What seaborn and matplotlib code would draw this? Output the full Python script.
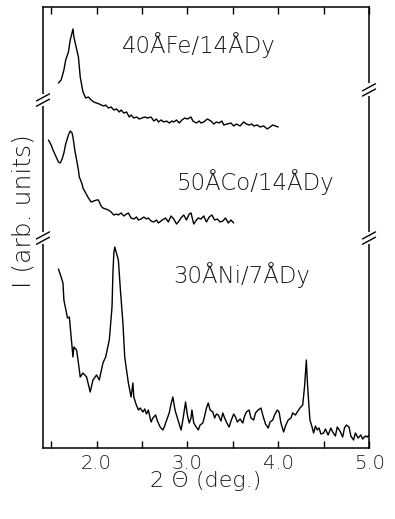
import matplotlib
matplotlib.use("Agg")
import matplotlib.pyplot as plt
import seaborn as sns
import pandas as pd

# ---- data (y in arbitrary units, curves stacked) ----
fe_x = [1.58, 1.61, 1.64, 1.66, 1.69, 1.71, 1.74, 1.75, 1.80, 1.82, 1.85, 1.88, 1.91, 1.94,
        1.97, 2.00, 2.03, 2.05, 2.08, 2.10, 2.13, 2.16, 2.19, 2.22, 2.25, 2.27, 2.30, 2.33,
        2.36, 2.38, 2.41, 2.44, 2.47, 2.50, 2.53, 2.56, 2.60, 2.63, 2.66, 2.68, 2.71, 2.74,
        2.77, 2.80, 2.83, 2.85, 2.88, 2.91, 2.94, 2.97, 3.00, 3.04, 3.06, 3.10, 3.13, 3.15,
        3.18, 3.22, 3.26, 3.29, 3.32, 3.35, 3.38, 3.40, 3.44, 3.48, 3.51, 3.54, 3.58, 3.62,
        3.65, 3.68, 3.71, 3.73, 3.77, 3.80, 3.84, 3.88, 3.91, 3.94, 3.97, 4.00]
fe_y = [365, 368, 378, 388, 396, 408, 419, 411, 391, 371, 356, 350, 351, 348,
        346, 345, 344, 343, 342, 343, 340, 341, 338, 339, 336, 338, 335, 336,
        331, 333, 330, 331, 329, 330, 331, 330, 331, 327, 329, 326, 328, 326,
        327, 325, 327, 326, 328, 325, 328, 330, 329, 331, 327, 325, 327, 325,
        326, 329, 327, 324, 326, 325, 327, 323, 324, 325, 322, 324, 322, 326,
        324, 323, 324, 322, 323, 321, 322, 319, 321, 323, 322, 321]

co_x = [1.47, 1.50, 1.52, 1.55, 1.58, 1.60, 1.62, 1.64, 1.66, 1.69, 1.71, 1.73, 1.74, 1.76,
        1.78, 1.80, 1.81, 1.84, 1.85, 1.88, 1.91, 1.94, 1.97, 2.00, 2.02, 2.05, 2.07, 2.10,
        2.13, 2.16, 2.19, 2.22, 2.24, 2.27, 2.30, 2.33, 2.35, 2.38, 2.41, 2.44, 2.46, 2.49,
        2.52, 2.55, 2.57, 2.60, 2.63, 2.66, 2.68, 2.71, 2.74, 2.76, 2.79, 2.82, 2.85, 2.88,
        2.90, 2.93, 2.96, 2.99, 3.02, 3.04, 3.07, 3.10, 3.12, 3.15, 3.18, 3.21, 3.24, 3.27,
        3.30, 3.33, 3.36, 3.39, 3.42, 3.45, 3.48, 3.51]
co_y = [308, 303, 298, 292, 286, 285, 289, 295, 304, 313, 317, 315, 311, 298,
        288, 278, 271, 264, 260, 255, 250, 246, 247, 248, 248, 242, 240, 239,
        238, 236, 233, 234, 233, 235, 232, 234, 235, 230, 229, 231, 228, 229,
        231, 229, 230, 227, 226, 228, 225, 227, 229, 230, 226, 232, 229, 224,
        226, 230, 233, 228, 234, 235, 224, 228, 230, 229, 232, 226, 231, 233,
        228, 229, 226, 227, 230, 225, 228, 225]

ni_x = [1.58, 1.61, 1.63, 1.64, 1.68, 1.70, 1.72, 1.74, 1.75, 1.78, 1.80, 1.82, 1.85, 1.89,
        1.93, 1.96, 2.00, 2.03, 2.07, 2.10, 2.14, 2.17, 2.18, 2.19, 2.20, 2.24, 2.26, 2.29,
        2.31, 2.35, 2.38, 2.40, 2.41, 2.43, 2.46, 2.48, 2.51, 2.53, 2.55, 2.57, 2.60, 2.62,
        2.65, 2.67, 2.70, 2.73, 2.75, 2.76, 2.78, 2.80, 2.82, 2.84, 2.86, 2.87, 2.89, 2.91,
        2.93, 2.95, 2.97, 2.98, 3.00, 3.02, 3.04, 3.05, 3.07, 3.09, 3.12, 3.14, 3.17, 3.19,
        3.21, 3.23, 3.25, 3.28, 3.30, 3.32, 3.34, 3.37, 3.39, 3.41, 3.44, 3.46, 3.48, 3.51,
        3.53, 3.55, 3.58, 3.61, 3.63, 3.65, 3.68, 3.70, 3.73, 3.75, 3.78, 3.81, 3.83, 3.86,
        3.89, 3.91, 3.94, 3.96, 3.99, 4.01, 4.03, 4.06, 4.08, 4.11, 4.14, 4.16, 4.19, 4.21,
        4.24, 4.27, 4.29, 4.31, 4.32, 4.34, 4.35, 4.37, 4.39, 4.41, 4.43, 4.45, 4.47, 4.50,
        4.52, 4.55, 4.58, 4.60, 4.63, 4.65, 4.68, 4.71, 4.73, 4.75, 4.78, 4.80, 4.83, 4.85,
        4.88, 4.91, 4.93, 4.96, 4.98, 5.00]
ni_y = [179, 171, 165, 148, 130, 131, 111, 91, 101, 98, 85, 71, 75, 71,
        56, 68, 73, 68, 85, 91, 108, 141, 175, 195, 201, 188, 161, 125,
        91, 65, 51, 65, 51, 45, 38, 40, 36, 39, 34, 38, 26, 30,
        33, 27, 21, 18, 22, 25, 30, 35, 44, 51, 40, 36, 30, 24,
        18, 28, 40, 46, 33, 25, 30, 38, 25, 22, 18, 23, 25, 32,
        40, 45, 38, 36, 30, 34, 33, 27, 35, 30, 24, 21, 27, 34,
        31, 26, 29, 25, 32, 36, 38, 30, 28, 35, 38, 40, 33, 24,
        20, 26, 28, 33, 38, 36, 25, 16, 22, 28, 30, 35, 33, 36,
        40, 43, 61, 88, 68, 40, 28, 22, 15, 22, 18, 20, 14, 15,
        19, 13, 20, 16, 12, 21, 17, 11, 20, 23, 21, 12, 8, 15,
        10, 13, 9, 12, 11, 13]

labels = ["40ÅFe/14ÅDy", "50ÅCo/14ÅDy", "30ÅNi/7ÅDy"]
xticks = [1.5, 2.0, 2.5, 3.0, 3.5, 4.0, 4.5, 5.0]
xticklabels = ["", "2.0", "", "3.0", "", "4.0", "", "5.0"]

TXT = "#1a1a1a"

# ---- figure ----
sns.set_theme(style="white")
plt.rcParams["font.family"] = ["DejaVu Sans"]

fig = plt.figure(figsize=(3.95, 5.19), dpi=100)
ax = fig.add_axes([43 / 395, 1 - 448 / 519, (369 - 43) / 395, (448 - 7) / 519])

for xs, ys in [(fe_x, fe_y), (co_x, co_y), (ni_x, ni_y)]:
    df = pd.DataFrame({"x": xs, "y": ys})
    sns.lineplot(data=df, x="x", y="y", ax=ax, color="black", linewidth=1.0,
                 estimator=None, sort=False)

ax.set_xlim(1.41, 5.0)
ax.set_ylim(0, 441)
ax.set_xticks(xticks)
ax.set_xticklabels(xticklabels, fontsize=14, color=TXT, fontweight="light")
ax.set_yticks([])
ax.tick_params(axis="x", direction="in", length=5, width=1, top=True, bottom=True,
               colors="black", pad=4)
for lab in ax.get_xticklabels():
    lab.set_color(TXT)
for sp in ax.spines.values():
    sp.set_color("black")
    sp.set_linewidth(1.1)

ax.set_xlabel("2 Θ (deg.)", fontsize=16, labelpad=-1, color=TXT, fontweight="light")
ax.set_ylabel("I (arb. units)", fontsize=18, color=TXT, fontweight="light")
ax.yaxis.set_label_coords(-7 / 326, (448 - 211) / 441)

# curve labels
label_pos = [(122, 45), (177, 182), (173, 275)]
for (px, py), lab in zip(label_pos, labels):
    fig.text(px / 395, 1 - py / 519, lab, fontsize=16.5, va="center", ha="left",
             color=TXT, fontweight="light")

# axis-break marks on both side spines
def brk(xa, ya):
    ax.plot([xa, xa], [ya - 0.010, ya + 0.010], color="white",
            lw=3, transform=ax.transAxes, clip_on=False, zorder=5)
    for dy in (-0.006, 0.006):
        ax.plot([xa - 0.02, xa + 0.02], [ya + dy - 0.008, ya + dy + 0.008],
                color="black", lw=1, transform=ax.transAxes, clip_on=False, zorder=6)

brk(0.0, 0.789)
brk(0.0, 0.476)
brk(1.0, 0.812)
brk(1.0, 0.476)

fig.savefig("out.png", dpi=100)
